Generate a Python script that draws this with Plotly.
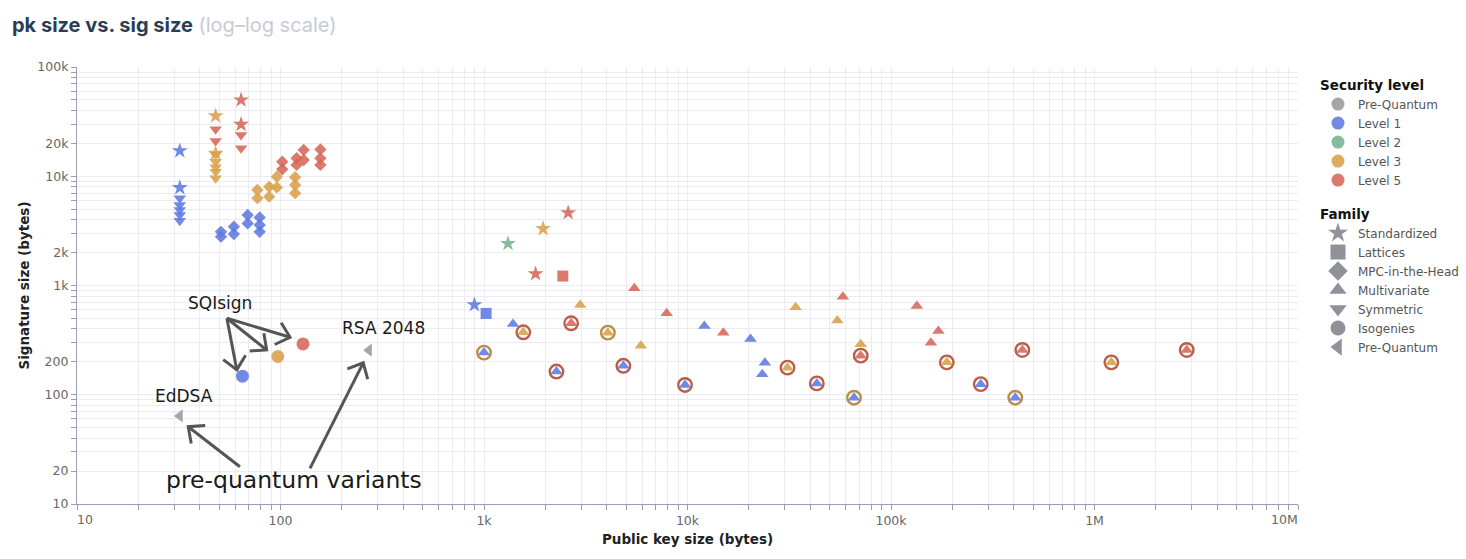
import math
import plotly.graph_objects as go

# ---------------- data ----------------
LEVELS = ["Pre-Quantum", "Level 1", "Level 2", "Level 3", "Level 5"]
LEVEL_COLORS = {"Pre-Quantum": "#9a9a9e", "Level 1": "#5f7ae0", "Level 2": "#74b392",
                "Level 3": "#d9a04a", "Level 5": "#d6675a"}
FAMILIES = ["Standardized", "Lattices", "MPC-in-the-Head", "Multivariate", "Symmetric",
            "Isogenies", "Pre-Quantum"]
FAMILY_SYMBOLS = {"Standardized": "star", "Lattices": "square", "MPC-in-the-Head": "diamond",
                  "Multivariate": "triangle-up", "Symmetric": "triangle-down",
                  "Isogenies": "circle", "Pre-Quantum": "triangle-left"}

# Standardized
std_pk = [32, 32, 48, 48, 64, 64, 897, 1312, 1952, 2592, 1793]
std_sig = [17088, 7856, 35664, 16224, 49856, 29792, 666, 2420, 3309, 4627, 1280]
std_lvl = ["Level 1", "Level 1", "Level 3", "Level 3", "Level 5", "Level 5",
           "Level 1", "Level 2", "Level 3", "Level 5", "Level 5"]

# Lattices
lat_pk = [1024, 2440]
lat_sig = [555, 1221]
lat_lvl = ["Level 1", "Level 5"]

# MPC-in-the-Head
mpc_pk = [51, 51, 59, 59, 69, 69, 79, 79, 79,
          77, 77, 88, 88, 96, 96, 118, 118, 118,
          102, 102, 120, 120, 130, 130, 157, 157, 157]
mpc_sig = [3100, 2800, 3450, 2960, 4420, 3700, 4200, 3580, 3100,
           7500, 6300, 8000, 6500, 9900, 7900, 9800, 8300, 7000,
           13600, 11600, 14600, 12700, 17400, 14100, 17600, 14600, 12700]
mpc_lvl = ["Level 1"] * 9 + ["Level 3"] * 9 + ["Level 5"] * 9

# Symmetric
sym_pk = [32, 32, 32, 32, 32, 48, 48, 48, 48, 48, 48, 48, 64, 64]
sym_sig = [6280, 5460, 4910, 4420, 3920, 15700, 13600, 12100, 11000, 9600,
           26900, 21000, 23900, 18000]
sym_lvl = ["Level 1"] * 5 + ["Level 3"] * 5 + ["Level 5"] * 4

# Multivariate
mv_pk = [1390, 2970, 5480, 7900, 12100, 15000, 5900, 20400, 34000, 58000, 54500,
         71000, 24000, 23300, 134000, 171000, 157000,
         1000, 1560, 2680, 4060, 2270, 4840, 9720, 71000, 31000, 43200, 65800,
         188000, 276000, 408000, 442000, 1210000, 2840000]
mv_sig = [445, 664, 942, 556, 426, 370, 281, 324, 631, 790, 477,
          290, 196, 154, 649, 383, 299,
          243, 373, 451, 370, 163, 184, 123, 228, 177, 127, 94,
          198, 125, 94, 257, 198, 257]
mv_lvl = ["Level 1", "Level 3", "Level 5", "Level 5", "Level 1", "Level 5", "Level 3",
          "Level 1", "Level 3", "Level 5", "Level 3", "Level 3", "Level 1", "Level 1",
          "Level 5", "Level 5", "Level 5",
          "Level 1", "Level 3", "Level 5", "Level 3", "Level 1", "Level 1", "Level 1",
          "Level 5", "Level 3", "Level 1", "Level 1", "Level 3", "Level 1", "Level 1",
          "Level 5", "Level 3", "Level 5"]
# ring marking on the multivariate schemes ("" = none)
mv_ring = [""] * 17 + ["o", "r", "r", "o", "r", "r", "r", "r", "r", "r", "o",
                       "r", "r", "o", "r", "r", "r"]
RING_COLORS = {"r": "#b5553f", "o": "#bb883c"}

# Isogenies
iso_pk = [65, 97, 129]
iso_sig = [148, 224, 292]
iso_lvl = ["Level 1", "Level 3", "Level 5"]

# Pre-Quantum
pq_pk = [32, 272]
pq_sig = [64, 256]
pq_lvl = ["Pre-Quantum", "Pre-Quantum"]

# axis ticks
x_major = [10, 100, 1000, 10000, 100000, 1000000, 10000000]
x_major_text = ["", "100", "1k", "10k", "100k", "1M", ""]
y_labels = {10: "10", 20: "20", 100: "100", 200: "200", 1000: "1k", 2000: "2k",
            10000: "10k", 20000: "20k", 100000: "100k"}

# ---------------- figure ----------------
X0, X1 = 1, 7
Y0, Y1 = 1, 5
ML, MR, MT, MB = 77, 168, 67, 55
W, H = 1466, 559
PW, PH = W - ML - MR, H - MT - MB

FONT = "DejaVu Sans"
fig = go.Figure()

sizes = {"Standardized": 12, "Lattices": 11, "MPC-in-the-Head": 9.5, "Multivariate": 11,
         "Symmetric": 11, "Isogenies": 13, "Pre-Quantum": 11.5}


def add_family(name, pk, sig, lvl):
    fig.add_trace(go.Scatter(
        x=pk, y=sig, mode="markers", showlegend=False, name=name,
        marker=dict(symbol=FAMILY_SYMBOLS[name], size=sizes[name],
                    color=[LEVEL_COLORS[l] for l in lvl], opacity=0.88,
                    line=dict(width=0)),
        hovertemplate=name + "<br>pk %{x}<br>sig %{y}<extra></extra>"))


# rings first (beneath triangles)
for key, col in RING_COLORS.items():
    rx = [p for p, r in zip(mv_pk, mv_ring) if r == key]
    ry = [s for s, r in zip(mv_sig, mv_ring) if r == key]
    fig.add_trace(go.Scatter(
        x=rx, y=ry, mode="markers", showlegend=False, hoverinfo="skip",
        marker=dict(symbol="circle-open", size=13.5, color=col, opacity=0.95,
                    line=dict(width=2.4, color=col))))

add_family("Symmetric", sym_pk, sym_sig, sym_lvl)
add_family("MPC-in-the-Head", mpc_pk, mpc_sig, mpc_lvl)
add_family("Multivariate", mv_pk, mv_sig, mv_lvl)
add_family("Lattices", lat_pk, lat_sig, lat_lvl)
add_family("Standardized", std_pk, std_sig, std_lvl)
add_family("Isogenies", iso_pk, iso_sig, iso_lvl)
add_family("Pre-Quantum", pq_pk, pq_sig, pq_lvl)

# legend entries
for lv in LEVELS:
    fig.add_trace(go.Scatter(
        x=[None], y=[None], mode="markers", name=lv, legend="legend",
        marker=dict(symbol="circle", size=13, color=LEVEL_COLORS[lv], opacity=0.88)))
for fam in FAMILIES:
    fig.add_trace(go.Scatter(
        x=[None], y=[None], mode="markers", name=fam, legend="legend2",
        marker=dict(symbol=FAMILY_SYMBOLS[fam], size=15, color="#8a8b93", opacity=0.95)))


# ---------------- annotations & arrows ----------------
def to_paper(pk, sig):
    return ((math.log10(pk) - X0) / (X1 - X0), (math.log10(sig) - Y0) / (Y1 - Y0))


shapes = []


def arrow(tail, tip, head=17, ang=42):
    x0, y0 = to_paper(*tail)
    x1, y1 = to_paper(*tip)
    dx, dy = (x1 - x0) * PW, (y1 - y0) * PH
    L = math.hypot(dx, dy)
    ux, uy = -dx / L, -dy / L
    pts = []
    for s in (1, -1):
        a = math.radians(ang) * s
        rx = ux * math.cos(a) - uy * math.sin(a)
        ry = ux * math.sin(a) + uy * math.cos(a)
        pts.append((x1 + rx * head / PW, y1 + ry * head / PH))
    style = dict(color="#555555", width=3)
    shapes.append(dict(type="line", xref="paper", yref="paper", x0=x0, y0=y0, x1=x1, y1=y1,
                       line=style))
    shapes.append(dict(type="path", xref="paper", yref="paper",
                       path=f"M {pts[0][0]},{pts[0][1]} L {x1},{y1} L {pts[1][0]},{pts[1][1]}",
                       line=style))


sqi_tail = (54.5, 501)
arrow(sqi_tail, (61, 169))
arrow(sqi_tail, (85.5, 257))
arrow(sqi_tail, (111.4, 336))
arrow((63.2, 21.9), (35.2, 51))
arrow((139.6, 21.2), (255, 196))

annots = []


def label(text, pk, sig, size):
    annots.append(dict(x=math.log10(pk), y=math.log10(sig), xref="x", yref="y", text=text,
                       showarrow=False, font=dict(family=FONT, size=size, color="#1a1a1a"),
                       xanchor="center", yanchor="middle"))


label("SQIsign", 50.4, 692, 17)
label("RSA 2048", 320, 410, 17)
label("EdDSA", 33.5, 97, 17)
label("pre-quantum variants", 116, 16.6, 23.5)

# flushed end labels of the x axis
annots.append(dict(x=0, y=0, xref="paper", yref="paper", text="10", showarrow=False,
                   xanchor="left", yanchor="top", yshift=-6, xshift=-2,
                   font=dict(family=FONT, size=12.5, color="#666")))
annots.append(dict(x=1, y=0, xref="paper", yref="paper", text="10M", showarrow=False,
                   xanchor="right", yanchor="top", yshift=-6, xshift=2,
                   font=dict(family=FONT, size=12.5, color="#666")))

# ticks at every 1..9 multiple
x_tickvals, x_ticktext = [], []
for d in range(1, 7):
    for m in range(1, 10):
        v = m * 10 ** d
        x_tickvals.append(v)
        x_ticktext.append(x_major_text[x_major.index(v)] if v in x_major else "")
x_tickvals.append(10 ** 7)
x_ticktext.append("")

y_tickvals, y_ticktext = [], []
for d in range(1, 5):
    for m in range(1, 10):
        v = m * 10 ** d
        y_tickvals.append(v)
        y_ticktext.append(y_labels.get(v, ""))
y_tickvals.append(10 ** 5)
y_ticktext.append(y_labels[10 ** 5])

axis_common = dict(type="log", showgrid=True, gridcolor="#eaecf2", gridwidth=1,
                   showline=True, linecolor="#9c9cb4", linewidth=1.2,
                   ticks="outside", ticklen=5, tickcolor="#9c9cb4", tickwidth=1,
                   tickfont=dict(family=FONT, size=12.5, color="#666"),
                   zeroline=False, mirror=False)

LEG_X = (1318 - ML) / PW
fig.update_layout(
    width=W, height=H, autosize=False,
    margin=dict(l=ML, r=MR, t=MT, b=MB, autoexpand=False),
    paper_bgcolor="white", plot_bgcolor="white",
    title=dict(text="<b>pk size vs. sig size</b> <span style='color:#c6cbd7;font-weight:normal'>(log–log scale)</span>",
               x=12 / W, xanchor="left", xref="container",
               y=1 - 25 / H, yanchor="middle", yref="container",
               font=dict(family="Inter", size=20, color="#2a3d55")),
    xaxis=dict(axis_common, range=[X0, X1], tickvals=x_tickvals, ticktext=x_ticktext,
               title=dict(text="Public key size (bytes)", standoff=7,
                          font=dict(family=FONT, size=13.5, color="#222", weight="bold"))),
    yaxis=dict(axis_common, range=[Y0, Y1], tickvals=y_tickvals, ticktext=y_ticktext,
               title=dict(text="Signature size (bytes)", standoff=4,
                          font=dict(family=FONT, size=13.5, color="#222", weight="bold"))),
    legend=dict(x=LEG_X, xanchor="left", y=(504 - 72) / PH, yanchor="top",
                bgcolor="rgba(0,0,0,0)", itemsizing="trace",
                title=dict(text="Security level",
                           font=dict(family=FONT, size=13.5, color="#111", weight="bold")),
                font=dict(family=FONT, size=12, color="#555")),
    legend2=dict(x=LEG_X, xanchor="left", y=(504 - 201) / PH, yanchor="top",
                 bgcolor="rgba(0,0,0,0)", itemsizing="trace",
                 title=dict(text="Family",
                            font=dict(family=FONT, size=13.5, color="#111", weight="bold")),
                 font=dict(family=FONT, size=12, color="#555")),
    shapes=shapes,
    annotations=annots,
    hovermode="closest",
)

fig.write_html("out.html")
